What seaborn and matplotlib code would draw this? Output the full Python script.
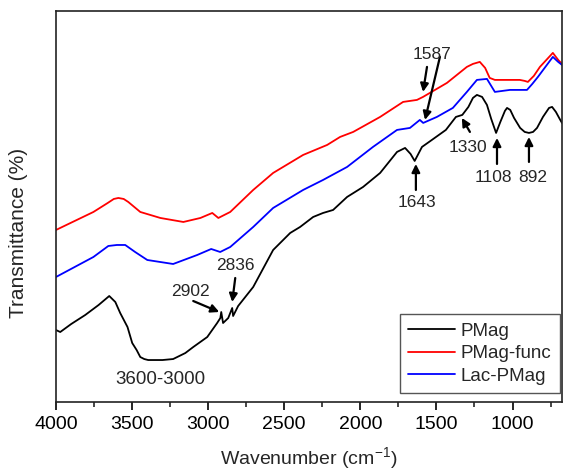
import numpy as np
import pandas as pd
import matplotlib
matplotlib.use("Agg")
import matplotlib.pyplot as plt
from matplotlib.ticker import MultipleLocator
import seaborn as sns

# FTIR spectra (wavenumber in cm-1, arbitrary transmittance units)
pmag_wn = [4000, 3972, 3900, 3808, 3720, 3650, 3610, 3578, 3530, 3499, 3470, 3446,
           3420, 3394, 3300, 3230, 3150, 3098, 3006, 2941, 2920, 2914, 2902, 2868,
           2842, 2836, 2803, 2704, 2573, 2461, 2396, 2310, 2245, 2179, 2087, 1982,
           1870, 1759, 1706, 1670, 1643, 1595, 1530, 1438, 1372, 1330, 1290, 1260,
           1234, 1200, 1168, 1140, 1108, 1080, 1050, 1036, 1015, 990, 950, 920,
           892, 865, 839, 800, 760, 740, 715, 690, 675]
pmag_t = [72, 70, 78, 87, 97, 106, 100, 89, 75, 59, 52, 45,
          43, 42, 42, 43, 49, 55, 65, 79, 84, 90, 79, 84,
          94, 86, 96, 115, 152, 169, 175, 185, 189, 192, 205, 215,
          229, 250, 254, 248, 241, 255, 262, 272, 285, 287, 295, 304,
          307, 305, 297, 283, 269, 280, 291, 294, 292, 284, 274, 270,
          269, 270, 274, 285, 294, 295, 290, 283, 279]

func_wn = [4000, 3754, 3660, 3620, 3590, 3555, 3525, 3446, 3314, 3163, 3051, 2973,
           2933, 2855, 2704, 2573, 2376, 2218, 2133, 2047, 1870, 1719, 1628, 1588,
           1431, 1300, 1260, 1215, 1180, 1150, 1116, 952, 920, 899, 860, 820,
           735, 700, 675]
func_t = [172, 190, 199, 203, 204, 203, 200, 190, 184, 180, 184, 189,
          184, 190, 212, 229, 247, 257, 265, 270, 285, 300, 302, 305,
          319, 335, 338, 340, 334, 324, 322, 322, 321, 320, 326, 335,
          349, 342, 338]

lac_wn = [4000, 3754, 3656, 3600, 3545, 3480, 3400, 3230, 3072, 2980, 2921, 2855,
          2704, 2573, 2376, 2245, 2087, 1917, 1759, 1674, 1609, 1587, 1497, 1392,
          1300, 1234, 1168, 1140, 1116, 1017, 905, 870, 833, 735, 700, 675]
lac_t = [125, 145, 156, 157, 157, 150, 142, 138, 147, 153, 150, 155,
         175, 194, 212, 222, 235, 255, 272, 274, 282, 279, 285, 294,
         310, 322, 323, 316, 310, 312, 312, 318, 325, 345, 340, 337]

series_names = ["PMag", "PMag-func", "Lac-PMag"]
series_colors = ["black", "red", "blue"]

df = pd.concat([
    pd.DataFrame({"wn": pmag_wn, "t": pmag_t, "sample": "PMag"}),
    pd.DataFrame({"wn": func_wn, "t": func_t, "sample": "PMag-func"}),
    pd.DataFrame({"wn": lac_wn, "t": lac_t, "sample": "Lac-PMag"}),
])

sns.set_style("white")
plt.rcParams["font.family"] = ["Liberation Sans", "DejaVu Sans"]
plt.rcParams["mathtext.fontset"] = "custom"
plt.rcParams["mathtext.rm"] = "Liberation Sans"

fig = plt.figure(figsize=(5.66, 4.73), dpi=100)
ax = fig.add_axes([0.0989, 0.150, 0.894, 0.827])

sns.lineplot(data=df, x="wn", y="t", hue="sample", hue_order=series_names,
             palette=series_colors, linewidth=1.3, ax=ax)

ax.set_xlim(4000, 675)
ax.set_ylim(0, 391)
ax.xaxis.set_major_locator(MultipleLocator(500))
ax.xaxis.set_minor_locator(MultipleLocator(250))
ax.tick_params(axis="x", which="major", direction="out", length=6, width=1.2,
               labelsize=14, bottom=True, colors="black", pad=4)
ax.tick_params(axis="x", which="minor", direction="out", length=3.5, width=1.2, bottom=True)
ax.set_yticks([])
for s in ax.spines.values():
    s.set_linewidth(1.2)
    s.set_color("#222222")

ax.set_xlabel(r"Wavenumber (cm$^{-1}$)", fontsize=14, labelpad=9)
ax.set_ylabel("Transmittance (%)", fontsize=15)
ax.yaxis.set_label_coords(-0.056, 0.432)

# peak markers
arrow = dict(arrowstyle="-|>", color="black", lw=1.6, mutation_scale=12,
             shrinkA=0, shrinkB=0)
marks = [
    ((1562, 335), (1588, 310)),
    ((1477, 345), (1575, 282)),
    ((1635, 212), (1635, 238)),
    ((1280, 270), (1333, 284)),
    ((1102, 238), (1102, 264)),
    ((892, 240), (892, 265)),
    ((3098, 101), (2927, 90)),
    ((2822, 124), (2842, 100)),
]
for tail, head in marks:
    ax.annotate("", xy=head, xytext=tail, arrowprops=arrow)

labels = [("1587", 1529, 347), ("1643", 1627, 199), ("1330", 1293, 254),
          ("1108", 1125, 224), ("892", 865, 224), ("2902", 3115, 111),
          ("2836", 2822, 136), ("3600-3000", 3315, 23)]
for txt, x, y in labels:
    ax.text(x, y, txt, fontsize=13.5 if "-" in txt else 12.5, ha="center", va="center")

leg = ax.legend(loc="lower right", bbox_to_anchor=(0.996, 0.023), borderaxespad=0,
                fontsize=13.5, handlelength=2.5, handletextpad=0.3, frameon=True,
                fancybox=False, edgecolor="#555555", framealpha=1, borderpad=0.45,
                labelspacing=0.28)
leg.get_frame().set_linewidth(1.0)
for h in leg.get_lines():
    h.set_linewidth(1.3)

fig.savefig("out.png", dpi=100)
